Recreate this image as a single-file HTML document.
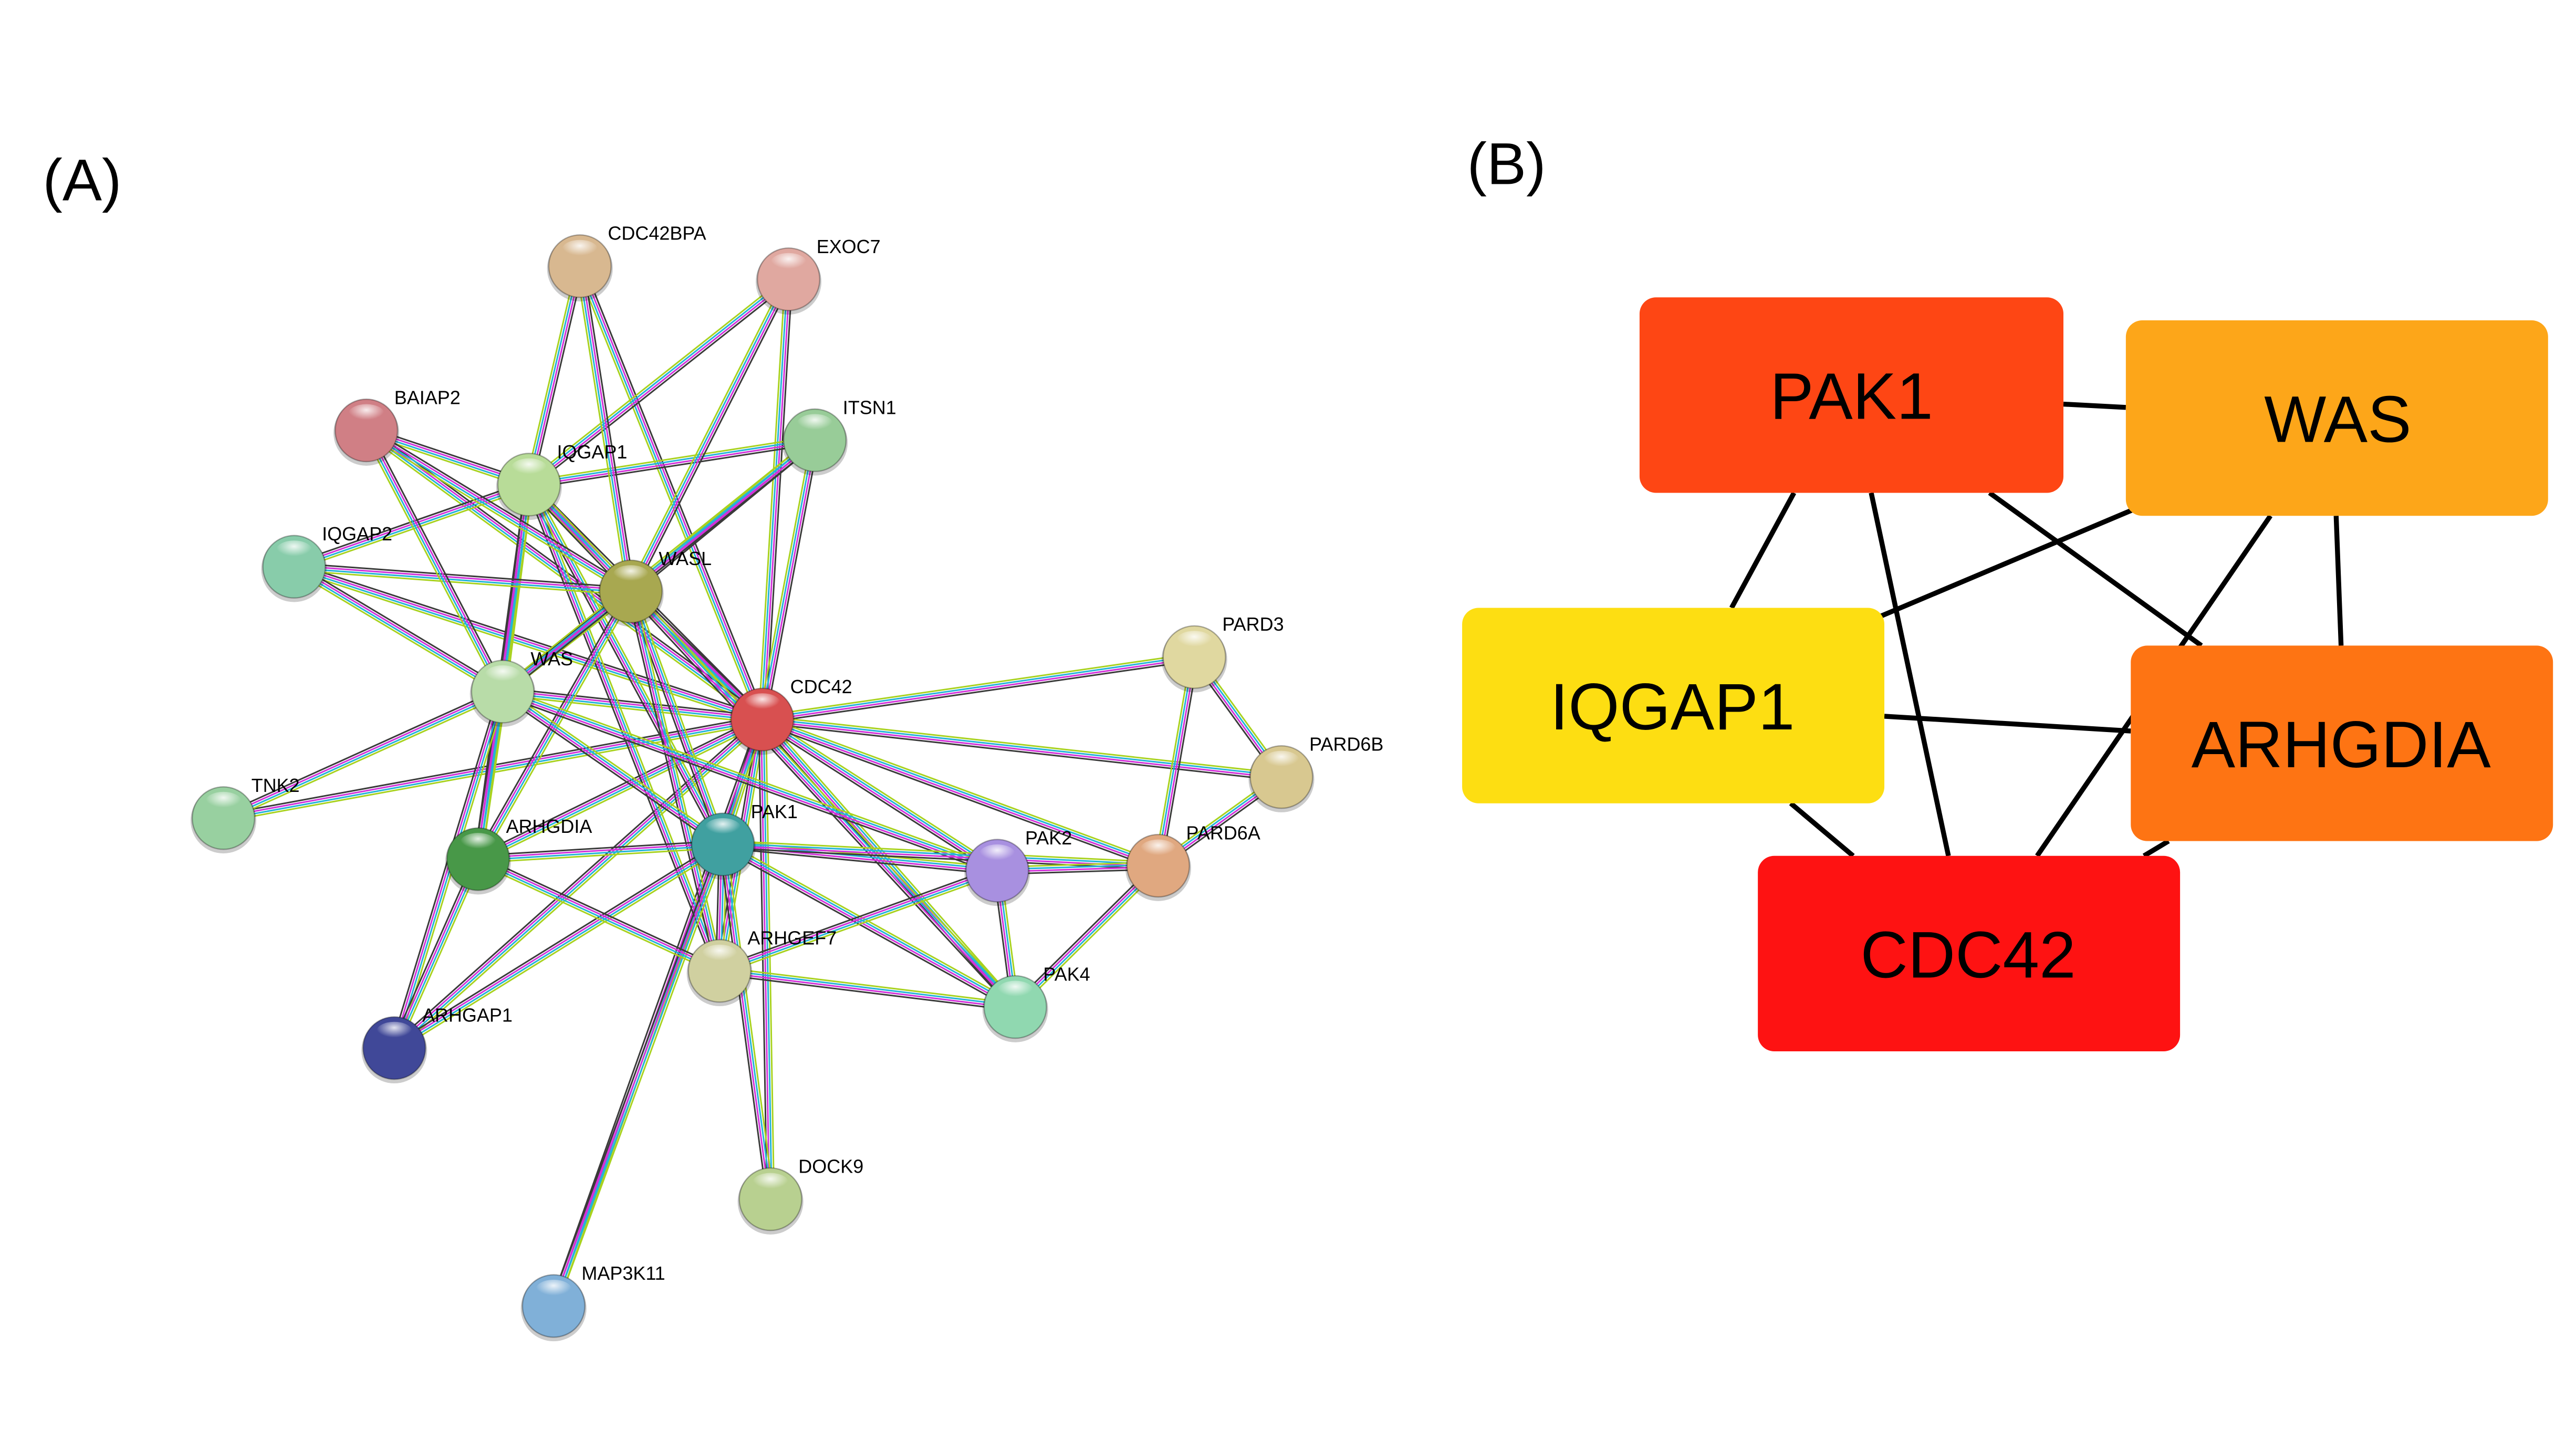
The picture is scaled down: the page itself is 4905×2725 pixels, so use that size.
<!DOCTYPE html>
<html><head><meta charset="utf-8">
<style>
html,body{margin:0;padding:0;background:#fff;}
svg{display:block;}
text{font-family:"Liberation Sans",Arial,sans-serif;}
</style></head>
<body>
<svg id="s" width="4905" height="2725" viewBox="0 0 1568 871.1" xmlns="http://www.w3.org/2000/svg">
<defs>
<radialGradient id="hl" cx="50%" cy="30%" r="50%">
<stop offset="0" stop-color="#fff" stop-opacity="0.85"/>
<stop offset="1" stop-color="#fff" stop-opacity="0"/>
</radialGradient>
</defs>
<rect width="1568" height="871.1" fill="#fff"/>
<text x="26" y="122" font-size="36">(A)</text>
<text x="893" y="112" font-size="36">(B)</text>
<g id="edges"></g>
<g id="nodes"></g>
<g id="B">
<g stroke="#000" stroke-width="3">
<line x1="1256" y1="246" x2="1294" y2="248"/>
<line x1="1092" y1="300" x2="1054" y2="370"/>
<line x1="1139" y1="300" x2="1186" y2="521"/>
<line x1="1211" y1="300" x2="1340" y2="393"/>
<line x1="1299" y1="310" x2="1145" y2="375"/>
<line x1="1422" y1="314" x2="1425" y2="393"/>
<line x1="1382" y1="314" x2="1240" y2="521"/>
<line x1="1147" y1="436" x2="1297" y2="445"/>
<line x1="1090" y1="489" x2="1128" y2="521"/>
<line x1="1320" y1="512" x2="1305" y2="521"/>
</g>
<rect x="998" y="181" width="258" height="119" rx="10" fill="#FE4614"/>
<rect x="1294" y="195" width="257" height="119" rx="10" fill="#FDA619"/>
<rect x="890" y="370" width="257" height="119" rx="10" fill="#FDDE12"/>
<rect x="1297" y="393" width="257" height="119" rx="10" fill="#FE7413"/>
<rect x="1070" y="521" width="257" height="119" rx="10" fill="#FE1212"/>
<g font-size="40" text-anchor="middle">
<text x="1127" y="255">PAK1</text>
<text x="1423" y="269">WAS</text>
<text x="1018" y="444">IQGAP1</text>
<text x="1425" y="467">ARHGDIA</text>
<text x="1198" y="595">CDC42</text>
</g>
</g>
</svg>
<script>
var N={
CDC42BPA:[353,162,'#d8b890'],EXOC7:[480,170,'#e0a8a0'],BAIAP2:[223,262,'#d07f85'],ITSN1:[496,268,'#98cc98'],
IQGAP1:[322,295,'#b8dc98'],IQGAP2:[179,345,'#88ccaa'],WASL:[384,360,'#a8a850'],PARD3:[727,400,'#e0d8a0'],
WAS:[306,421,'#b8dca8'],CDC42:[464,438,'#d85050'],PARD6B:[780,473,'#d8c890'],TNK2:[136,498,'#98d0a0'],
ARHGDIA:[291,523,'#489848'],PAK1:[440,514,'#40a0a0'],PAK2:[607,530,'#a890e0'],PARD6A:[705,527,'#e0a880'],
ARHGEF7:[438,591,'#d0d0a0'],PAK4:[618,613,'#90d8b0'],ARHGAP1:[240,638,'#404898'],DOCK9:[469,730,'#b8d090'],
MAP3K11:[337,795,'#80b0d8']};
var E=[];
['CDC42BPA','EXOC7','ITSN1','IQGAP1','IQGAP2','WASL','WAS','PARD3','PARD6B','TNK2','ARHGDIA','PAK1','PAK2','PARD6A','ARHGEF7','PAK4','ARHGAP1','DOCK9','MAP3K11','BAIAP2'].forEach(function(n){E.push(['CDC42',n]);});
['CDC42BPA','EXOC7','BAIAP2','IQGAP2','WASL','WAS','ARHGDIA','PAK1','ARHGEF7','ITSN1'].forEach(function(n){E.push(['IQGAP1',n]);});
['CDC42BPA','ITSN1','IQGAP2','BAIAP2','WAS','ARHGDIA','PAK1','ARHGEF7','PAK4','EXOC7'].forEach(function(n){E.push(['WASL',n]);});
['IQGAP2','TNK2','ARHGDIA','PAK1','ARHGAP1','PAK2','BAIAP2','ITSN1'].forEach(function(n){E.push(['WAS',n]);});
['ARHGDIA','PAK2','ARHGEF7','PAK4','DOCK9','MAP3K11','ARHGAP1','PARD6A'].forEach(function(n){E.push(['PAK1',n]);});
E.push(['PAK2','ARHGEF7'],['PAK2','PAK4'],['PAK2','PARD6A'],['PARD6A','PARD3'],['PARD6A','PARD6B'],['PARD6A','PAK4'],['PARD3','PARD6B'],['ARHGEF7','PAK4'],['ARHGEF7','ARHGDIA'],['ARHGDIA','ARHGAP1']);
var cols=['#a8d21f','#24b3d8','#d231d9','#3a3a3a'];
var ns='http://www.w3.org/2000/svg';
var eg=document.getElementById('edges'),ng=document.getElementById('nodes');
E.forEach(function(e){var a=N[e[0]],b=N[e[1]];var dx=b[0]-a[0],dy=b[1]-a[1],l=Math.hypot(dx,dy);var px=-dy/l,py=dx/l;
for(var i=0;i<4;i++){var o=(i-1.5)*1.45;var L=document.createElementNS(ns,'line');
L.setAttribute('x1',a[0]+px*o);L.setAttribute('y1',a[1]+py*o);L.setAttribute('x2',b[0]+px*o);L.setAttribute('y2',b[1]+py*o);
L.setAttribute('stroke',cols[i]);L.setAttribute('stroke-width','0.95');eg.appendChild(L);}});
var h='';
for(var k in N){var n=N[k];
h+='<circle cx="'+n[0]+'" cy="'+(n[1]+1.5)+'" r="20" fill="#000" opacity="0.2"/>';
h+='<circle cx="'+n[0]+'" cy="'+n[1]+'" r="19" fill="'+n[2]+'" stroke="rgba(0,0,0,0.3)" stroke-width="0.8"/>';
h+='<ellipse cx="'+n[0]+'" cy="'+(n[1]-10)+'" rx="11" ry="6" fill="url(#hl)"/>';
h+='<text x="'+(n[0]+17)+'" y="'+(n[1]-16)+'" font-size="11.5">'+k+'</text>';}
ng.innerHTML=h;
</script>
</body></html>
